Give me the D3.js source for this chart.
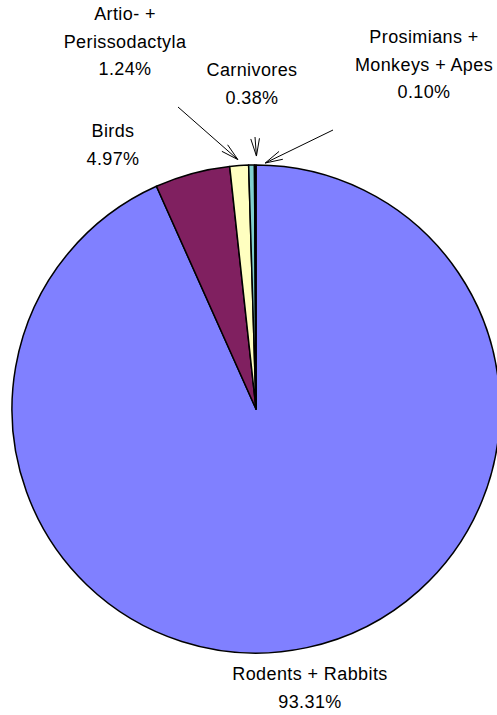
<!DOCTYPE html>
<html>
<head>
<meta charset="utf-8">
<script src="https://cdn.jsdelivr.net/npm/d3@7"></script>
<style>
  html, body { margin: 0; padding: 0; background: #fff; }
  svg { display: block; }
  text { font-family: "Liberation Sans", Arial, sans-serif; font-size: 18px; fill: #000; letter-spacing: 0.4px; }
</style>
</head>
<body>
<svg id="chart" width="497" height="715"></svg>
<script>
// ---- data ----
const categories = ["Rodents + Rabbits", "Birds", "Artio- + Perissodactyla", "Carnivores", "Prosimians + Monkeys + Apes"];
const values = [93.31, 4.97, 1.24, 0.38, 0.10];
const labelLines = [
  ["Rodents + Rabbits"],
  ["Birds"],
  ["Artio- +", "Perissodactyla"],
  ["Carnivores"],
  ["Prosimians +", "Monkeys + Apes"]
];
const colors = ["#8080FF", "#802060", "#FFFFC0", "#80D0D0", "#3050A0"];

// ---- layout (not data) ----
const W = 497, H = 715;
const cx = 256, cy = 409, R = 244;
const lineH = 27.5;
// label anchor: center x and baseline of first line
const labelPos = [
  { x: 310, y: 680 },
  { x: 113, y: 137 },
  { x: 125, y: 20 },
  { x: 252, y: 76 },
  { x: 424, y: 43 }
];
// leader lines: start point and nudge of the tip from the slice's outer mid point
const leaders = [
  null,
  null,
  { sx: 178, sy: 107, dx: -1, dy: -2, r: 4 },
  { sx: 255, sy: 137, dx: 5, dy: -3, r: 6 },
  { sx: 333, sy: 130, dx: 10, dy: 0, r: 2 }
];

const svg = d3.select("#chart");
const data = categories.map((c, i) => ({ name: c, value: values[i], i }));

const pie = d3.pie().sort(null).value(d => d.value).startAngle(0).endAngle(2 * Math.PI);
const arcs = pie(data);
const arc = d3.arc().innerRadius(0).outerRadius(R);

const g = svg.append("g").attr("transform", `translate(${cx},${cy})`);
g.selectAll("path.slice")
  .data(arcs)
  .enter().append("path")
  .attr("class", "slice")
  .attr("d", arc)
  .attr("fill", d => colors[d.data.i])
  .attr("stroke", "#000")
  .attr("stroke-width", 1.5)
  .attr("stroke-linejoin", "round");

// labels
arcs.forEach((a, i) => {
  const p = labelPos[i];
  const lines = labelLines[i].concat([values[i].toFixed(2) + "%"]);
  const t = svg.append("text").attr("text-anchor", "middle");
  lines.forEach((ln, k) => {
    t.append("tspan").attr("x", p.x).attr("y", p.y + k * lineH).text(ln);
  });
});

// leader lines with open arrowheads
arcs.forEach((a, i) => {
  const L = leaders[i];
  if (!L) return;
  const mid = (a.startAngle + a.endAngle) / 2;
  const tx = cx + (R + L.r) * Math.sin(mid) + L.dx;
  const ty = cy - (R + L.r) * Math.cos(mid) + L.dy;
  const ang = Math.atan2(ty - L.sy, tx - L.sx);
  const wing = 18, half = 14 * Math.PI / 180;
  const gg = svg.append("g").attr("stroke", "#000").attr("stroke-width", 1).attr("fill", "none");
  gg.append("line").attr("x1", L.sx).attr("y1", L.sy).attr("x2", tx).attr("y2", ty);
  [-half, half].forEach(h => {
    gg.append("line")
      .attr("x1", tx).attr("y1", ty)
      .attr("x2", tx - wing * Math.cos(ang + h))
      .attr("y2", ty - wing * Math.sin(ang + h));
  });
});
</script>
</body>
</html>
